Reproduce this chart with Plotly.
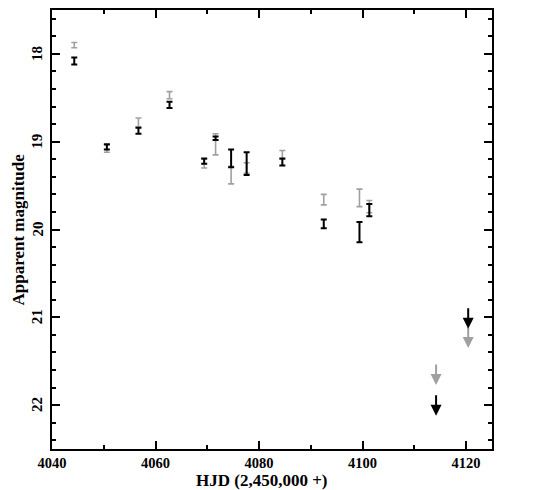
import plotly.graph_objects as go

# Detections (HJD - 2,450,000)
days = [4044.3, 4050.6, 4056.7, 4062.7, 4069.4, 4071.6, 4074.6, 4077.6, 4084.5, 4092.5, 4099.4, 4101.3]
mag_black = [18.08, 19.06, 18.875, 18.58, 19.22, 18.96, 19.19, 19.25, 19.23, 19.935, 20.03, 19.78]
err_black = [0.04, 0.03, 0.035, 0.035, 0.03, 0.02, 0.10, 0.13, 0.04, 0.05, 0.115, 0.07]
mag_gray = [17.90, 19.08, 18.78, 18.47, 19.25, 19.03, 19.38, 19.30, 19.15, 19.66, 19.64, 19.74]
err_gray = [0.03, 0.04, 0.05, 0.04, 0.05, 0.12, 0.10, 0.06, 0.05, 0.06, 0.10, 0.07]

# Upper limits (arrows)
lim_days_black = [4120.4, 4114.2]
lim_mag_black = [20.88, 21.87]
lim_days_gray = [4120.4, 4114.2]
lim_mag_gray = [21.10, 21.52]
arrow_len = 0.25

x_ticks = [4040, 4060, 4080, 4100, 4120]
y_ticks = [18, 19, 20, 21, 22]

GRAY = "#a0a0a0"
FONT = "Liberation Serif"
TFONT = dict(family=FONT, size=15, color="black")
XTFONT = dict(family=FONT, size=14.5, color="black")
TITLEFONT = dict(family=FONT, size=17, color="black")

fig = go.Figure()
fig.add_trace(go.Scatter(
    x=days, y=mag_gray, mode="markers",
    marker=dict(size=1, color=GRAY, opacity=0),
    error_y=dict(type="data", array=err_gray, color=GRAY, thickness=1.6, width=3),
    showlegend=False, hoverinfo="skip"))
fig.add_trace(go.Scatter(
    x=days, y=mag_black, mode="markers",
    marker=dict(size=1, color="black", opacity=0),
    error_y=dict(type="data", array=err_black, color="black", thickness=2, width=3),
    showlegend=False, hoverinfo="skip"))

anns = []
for d, m in zip(lim_days_gray, lim_mag_gray):
    anns.append(dict(x=d, y=m + arrow_len, ax=d, ay=m, xref="x", yref="y", axref="x", ayref="y",
                     showarrow=True, arrowhead=2, arrowsize=1.1, arrowwidth=2, arrowcolor=GRAY, text=""))
for d, m in zip(lim_days_black, lim_mag_black):
    anns.append(dict(x=d, y=m + arrow_len, ax=d, ay=m, xref="x", yref="y", axref="x", ayref="y",
                     showarrow=True, arrowhead=2, arrowsize=1.1, arrowwidth=2, arrowcolor="black", text=""))
# rotated y tick labels
for v in y_ticks:
    anns.append(dict(text=f"<b>{v}</b>", xref="paper", yref="y", x=0, y=v, xshift=-15,
                     xanchor="center", yanchor="middle", textangle=-90, showarrow=False, font=TFONT))
# axis titles
anns.append(dict(text="<b>HJD (2,450,000 +)</b>", xref="paper", yref="paper", x=0.477, y=0,
                 yanchor="middle", yshift=-31, showarrow=False, font=TITLEFONT))
anns.append(dict(text="<b>Apparent magnitude</b>", xref="paper", yref="paper", x=0, y=0.5,
                 xshift=-34, xanchor="center", yanchor="middle", textangle=-90, showarrow=False, font=TITLEFONT))

axis_common = dict(
    showgrid=False, zeroline=False, showline=True, linecolor="black", linewidth=2,
    mirror="ticks", ticks="inside", ticklen=8, tickwidth=1.5, tickcolor="black",
    automargin=False,
)

fig.update_layout(
    width=552, height=484,
    margin=dict(l=44, r=68, t=2, b=43),
    paper_bgcolor="white", plot_bgcolor="white",
    annotations=anns,
    xaxis=dict(range=[4040, 4125], tickvals=x_ticks,
               ticktext=[f"<b>{v}</b>" for v in x_ticks], tickfont=XTFONT,
               minor=dict(dtick=10, tick0=4040, ticks="inside", ticklen=4, tickwidth=1.5, tickcolor="black"),
               **axis_common),
    yaxis=dict(range=[22.5, 17.5], tickvals=y_ticks, showticklabels=False,
               minor=dict(dtick=0.2, tick0=18, ticks="inside", ticklen=4, tickwidth=1.5, tickcolor="black"),
               **axis_common),
)

fig.write_html("out.html")
